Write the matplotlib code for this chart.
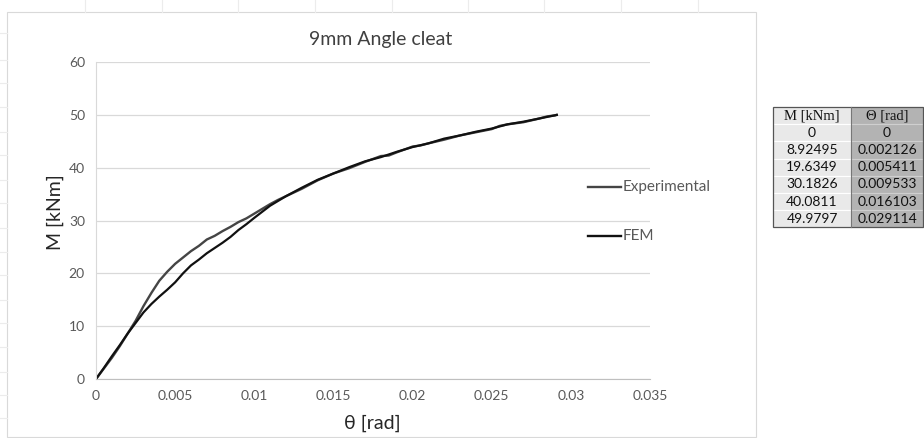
import matplotlib
matplotlib.use("Agg")
import matplotlib.pyplot as plt
from matplotlib.patches import Rectangle
from matplotlib.lines import Line2D

plt.rcParams['font.family'] = ['Lato', 'DejaVu Sans']

# ---- data ----
exp_theta = [0, 0.0005, 0.001, 0.0015, 0.002, 0.0025, 0.003, 0.0035, 0.004, 0.0045,
             0.005, 0.0055, 0.006, 0.0065, 0.007, 0.0075, 0.008, 0.0085, 0.009, 0.0095,
             0.010, 0.0105, 0.011, 0.0115, 0.012, 0.013, 0.014, 0.015, 0.0155, 0.016,
             0.017, 0.018, 0.0185, 0.019, 0.020, 0.0205, 0.021, 0.022, 0.023, 0.024,
             0.025, 0.0255, 0.026, 0.027, 0.028, 0.0285, 0.029, 0.0291]
exp_M = [0, 2.0, 4.0, 6.2, 8.6, 11.0, 13.8, 16.3, 18.6, 20.3,
         21.8, 23.0, 24.2, 25.2, 26.4, 27.1, 28.0, 28.8, 29.7, 30.4,
         31.3, 32.2, 33.1, 33.9, 34.6, 36.0, 37.6, 38.9, 39.4, 39.9,
         41.1, 42.2, 42.3, 42.9, 44.0, 44.2, 44.6, 45.3, 46.1, 46.7,
         47.3, 47.9, 48.2, 48.6, 49.3, 49.7, 49.9, 50.0]

fem_theta = [0, 0.0005, 0.001, 0.0015, 0.002, 0.0025, 0.003, 0.0035, 0.004, 0.0045,
             0.005, 0.0055, 0.006, 0.0065, 0.007, 0.0075, 0.008, 0.0085, 0.009, 0.0095,
             0.010, 0.011, 0.012, 0.013, 0.014, 0.015, 0.016, 0.017, 0.018, 0.019,
             0.020, 0.021, 0.022, 0.023, 0.024, 0.025, 0.026, 0.027, 0.028, 0.029114]
fem_M = [0, 2.1, 4.3, 6.4, 8.6, 10.6, 12.6, 14.2, 15.6, 16.9,
         18.3, 20.0, 21.5, 22.6, 23.8, 24.8, 25.8, 26.9, 28.2, 29.3,
         30.5, 32.8, 34.6, 36.2, 37.7, 38.9, 40.1, 41.2, 42.0, 43.0,
         43.9, 44.6, 45.5, 46.1, 46.8, 47.4, 48.2, 48.7, 49.3, 49.98]

x_ticks = [0, 0.005, 0.01, 0.015, 0.02, 0.025, 0.03, 0.035]
x_tick_labels = ['0', '0.005', '0.01', '0.015', '0.02', '0.025', '0.03', '0.035']
y_ticks = [0, 10, 20, 30, 40, 50, 60]

table_header = ['M [kNm]', 'Θ [rad]']
table_M = ['0', '8.92495', '19.6349', '30.1826', '40.0811', '49.9797']
table_theta = ['0', '0.002126', '0.005411', '0.009533', '0.016103', '0.029114']

W, H = 924, 438
fig = plt.figure(figsize=(W / 100, H / 100), dpi=100)
fig.patch.set_facecolor('white')

def fx(px):
    return px / W

def fy(py):
    return 1 - py / H

# faint spreadsheet cell marks outside the chart
for cx in [85, 162, 238, 315, 392, 468, 544, 621, 698]:
    fig.add_artist(Line2D([fx(cx), fx(cx)], [fy(0), fy(12)], color='#ececec', lw=0.8))
for ry in [33, 60, 83, 107, 132, 155, 180, 203, 228, 252, 275, 300, 323, 347, 372, 395, 418]:
    fig.add_artist(Line2D([fx(0), fx(7)], [fy(ry), fy(ry)], color='#ececec', lw=0.8))

# chart area border
fig.add_artist(Rectangle((fx(7), fy(437)), fx(756 - 7), (437 - 12) / H,
                         fill=False, edgecolor='#d9d9d9', lw=0.8))

ax = fig.add_axes([fx(96), fy(379), fx(650 - 96), (379 - 62) / H])
ax.plot(exp_theta, exp_M, color='#454545', lw=1.7, label='Experimental', solid_joinstyle='round')
ax.plot(fem_theta, fem_M, color='#111111', lw=1.6, label='FEM', solid_joinstyle='round')

ax.set_xlim(0, 0.035)
ax.set_ylim(0, 60)
ax.set_xticks(x_ticks)
ax.set_xticklabels(x_tick_labels)
ax.set_yticks(y_ticks)
ax.grid(axis='y', color='#d9d9d9', lw=0.9)
ax.set_axisbelow(True)
for s in ['top', 'right']:
    ax.spines[s].set_visible(False)
ax.spines['left'].set_color('#d9d9d9')
ax.spines['bottom'].set_color('#bfbfbf')
ax.tick_params(length=0, colors='#595959', labelsize=10)
ax.tick_params(axis='x', pad=8)
ax.tick_params(axis='y', pad=8)

fig.text(fx(381), fy(39), '9mm Angle cleat', ha='center', va='center',
         fontsize=14, color='#404040')
fig.text(fx(55), fy(212), 'M [kNm]', ha='center', va='center', rotation=90,
         fontsize=14, color='#262626')
fig.text(fx(372), fy(423), 'θ [rad]', ha='center', va='center',
         fontsize=14, color='#262626')

# legend
for ly, lab, col in [(187, 'Experimental', '#454545'), (236, 'FEM', '#111111')]:
    fig.add_artist(Line2D([fx(588), fx(621)], [fy(ly), fy(ly)], color=col, lw=1.7))
    fig.text(fx(623), fy(ly), lab, ha='left', va='center', fontsize=11, color='#595959')

# table
x0, xm, x1 = 773, 851, 923
top, rh = 107, 17.2
rows = [table_header] + [[a, b] for a, b in zip(table_M, table_theta)]
for i, (a, b) in enumerate(rows):
    yt = top + i * rh
    fig.add_artist(Rectangle((fx(x0), fy(yt + rh)), fx(xm - x0), rh / H,
                             facecolor='#e9e9e9', edgecolor='#ffffff', lw=0.8))
    fig.add_artist(Rectangle((fx(xm), fy(yt + rh)), fx(x1 - xm), rh / H,
                             facecolor='#b3b3b3', edgecolor='#cfcfcf', lw=0.8))
    fam = ['Liberation Serif', 'DejaVu Serif'] if i == 0 else ['Lato', 'DejaVu Sans']
    fs = 10.5 if i == 0 else 10
    fig.text(fx((x0 + xm) / 2), fy(yt + rh / 2), a, ha='center', va='center',
             fontsize=fs, color='#111111', family=fam)
    fig.text(fx((xm + x1) / 2), fy(yt + rh / 2), b, ha='center', va='center',
             fontsize=fs, color='#111111', family=fam)
fig.add_artist(Rectangle((fx(x0), fy(top + 7 * rh)), fx(x1 - x0), 7 * rh / H,
                         fill=False, edgecolor='#555555', lw=0.9))
fig.add_artist(Line2D([fx(xm), fx(xm)], [fy(top), fy(top + 7 * rh)], color='#777777', lw=0.8))

fig.savefig('out.png', dpi=100, facecolor='white')
